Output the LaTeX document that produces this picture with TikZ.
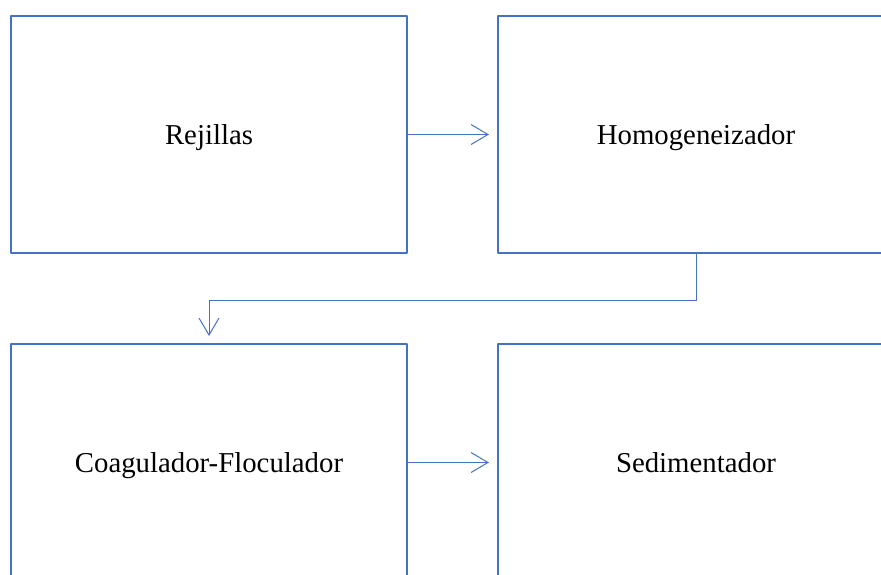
\documentclass[tikz,border=0pt]{standalone}
\usepackage{fontspec}
\setmainfont{Liberation Serif}
\usetikzlibrary{arrows.meta}
\definecolor{boxblue}{HTML}{4472C4}
\begin{document}
\begin{tikzpicture}[>={Straight Barb[length=17pt,width=20pt]},line join=round,x=1pt,y=-1pt,
	etapa/.style={draw=boxblue,line width=2pt,minimum width=396pt,minimum height=237pt,inner sep=0pt,text height=21pt,text depth=2pt,font=\fontsize{28.8}{34}\selectfont},
	flujo/.style={->,draw=boxblue,line width=1pt}]
			\useasboundingbox (0,0) rectangle (881,574);
			\clip (0,0) rectangle (881,574);
			\node[etapa] (rej) at (209,134.5) {Rejillas};
			\node[etapa] (hom) at (696,134.5) {Homogeneizador};
			\node[etapa] (coa) at (209,462.5) {Coagulador-Floculador};
			\node[etapa] (sed) at (696,462.5) {Sedimentador};
			
			\draw[flujo,shorten >=8pt] (rej) -- (hom);
			\draw[flujo,shorten >=7pt] (hom.south) -- ++(0,46) -| (coa.north);
			\draw[flujo,shorten >=8pt] (coa) -- (sed);
			\end{tikzpicture}
\end{document}
